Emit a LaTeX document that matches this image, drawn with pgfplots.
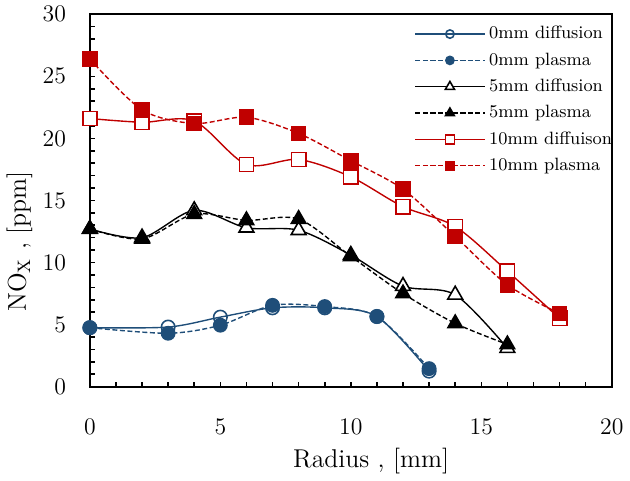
\documentclass[border=0pt]{standalone}
\usepackage{pgfplots}
\pgfplotsset{compat=1.18}
\definecolor{nblue}{HTML}{1F4E79}
\definecolor{nred}{HTML}{C00000}
\begin{document}
\begin{tikzpicture}
\begin{axis}[
  scale only axis,
  width=263.5pt, height=188pt,
  xmin=0, xmax=20, ymin=0, ymax=30,
  xtick={0,5,...,20}, ytick={0,5,...,30},
  minor x tick num=4, minor y tick num=4,
  tick pos=left, tick align=inside,
  major tick length=2.5pt, minor tick length=2.5pt,
  every tick/.style={black, line width=0.8pt},
  axis line style={line width=1pt},
  ticklabel style={font=\fontsize{11.5}{13}\selectfont},
  xticklabel style={yshift=-13pt},
  yticklabel style={xshift=-8.5pt},
  xlabel={Radius , [mm]},
  ylabel={NO\textsubscript{X} , [ppm]},
  label style={font=\fontsize{13}{15}\selectfont},
  xlabel style={at={(rel axis cs:0.539,0)}, anchor=north, yshift=-27.5pt},
  ylabel style={at={(rel axis cs:0,0.39)}, anchor=south, yshift=25.5pt},
  legend cell align=left,
  legend style={draw=none, fill=none, at={(rel axis cs:0.61,0.99)}, anchor=north west,
    font=\fontsize{9}{11}\selectfont, row sep=1.5pt,
    /tikz/every even column/.append style={column sep=0pt}},
  legend image code/.code={\draw[mark repeat=2, mark phase=2, #1,
    /tikz/every mark/.append style={scale=0.62}]
    plot coordinates {(0pt,0pt) (17.5pt,0pt) (35pt,0pt)};},
  every axis plot/.append style={smooth, tension=0.5, line width=0.7pt},
  mark size=3.4pt,
]
% 0 mm
\addplot[nblue, mark=o, mark options={solid, fill=white, line width=0.8pt}]
  coordinates {(0,4.75) (3,4.8) (5,5.6) (7,6.35) (9,6.35) (11,5.65) (13,1.25)};
\addplot[nblue, dash pattern=on 2.5pt off 1.3pt, mark=*, mark options={solid, fill=nblue}]
  coordinates {(0,4.75) (3,4.3) (5,4.95) (7,6.55) (9,6.45) (11,5.65) (13,1.45)};
% 5 mm
\addplot[black, mark=triangle*, mark size=4.3pt, mark options={solid, fill=white, line width=0.8pt}]
  coordinates {(0,12.7) (2,12.0) (4,14.2) (6,12.8) (8,12.6) (10,10.6) (12,8.1) (14,7.4) (16,3.1)};
\addplot[black, dash pattern=on 2.5pt off 1.3pt, mark=triangle*, mark size=4.3pt, mark options={solid, fill=black}]
  coordinates {(0,12.7) (2,11.9) (4,13.9) (6,13.4) (8,13.5) (10,10.5) (12,7.5) (14,5.1) (16,3.4)};
% 10 mm
\addplot[nred, mark=square*, mark size=3.6pt, mark options={solid, fill=white, line width=0.8pt}]
  coordinates {(0,21.6) (2,21.3) (4,21.4) (6,17.9) (8,18.3) (10,16.9) (12,14.5) (14,12.9) (16,9.3) (18,5.5)};
\addplot[nred, dash pattern=on 2.5pt off 1.3pt, mark=square*, mark size=3.6pt, mark options={solid, fill=nred}]
  coordinates {(0,26.4) (2,22.3) (4,21.2) (6,21.7) (8,20.4) (10,18.2) (12,15.9) (14,12.1) (16,8.2) (18,5.9)};
\legend{0mm diffusion, 0mm plasma, 5mm diffusion, 5mm plasma, 10mm diffuison, 10mm plasma}
\end{axis}
\end{tikzpicture}
\end{document}
